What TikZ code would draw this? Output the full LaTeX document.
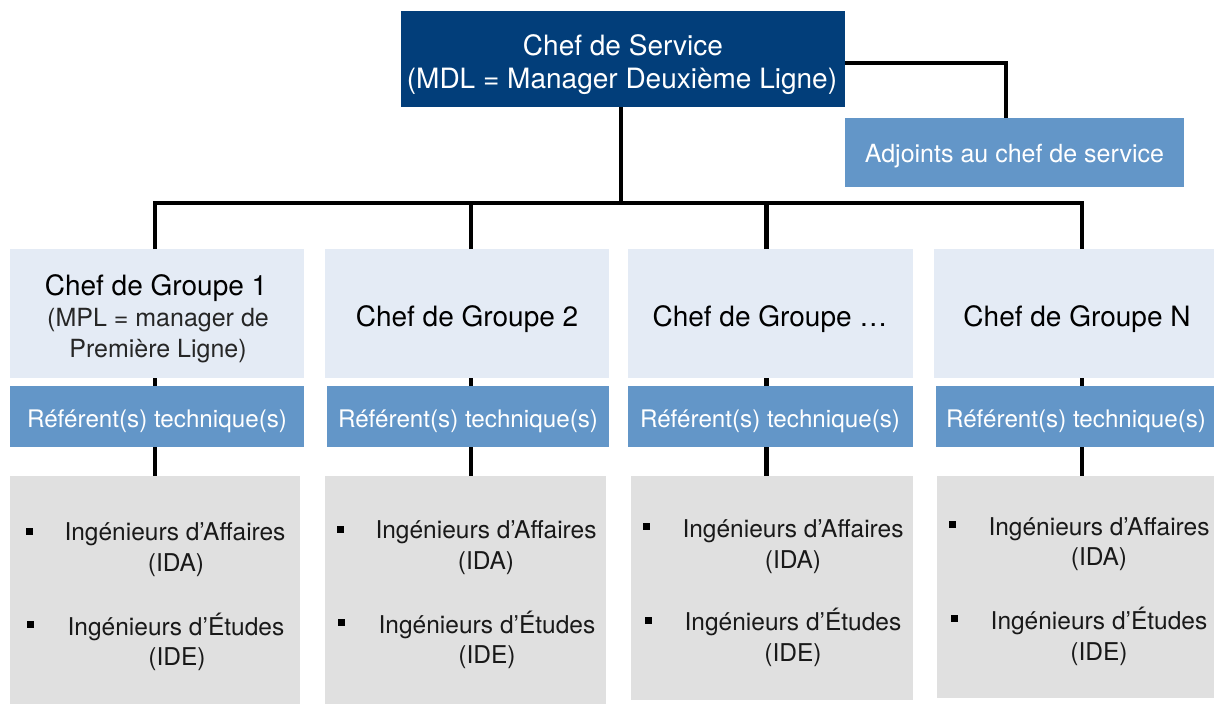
\documentclass[tikz,border=0pt]{standalone}
\usepackage{fontspec}
\setmainfont{TeX Gyre Heros}
\definecolor{navy}{RGB}{2,62,122}
\definecolor{midblue}{RGB}{99,150,200}
\definecolor{paleblue}{RGB}{228,235,245}
\definecolor{boxgray}{RGB}{224,224,224}
\begin{document}
\begin{tikzpicture}[x=1pt,y=-1pt,
  box/.style={anchor=north west, inner sep=0pt, outer sep=0pt, align=center},
  topbox/.style={box, fill=navy},
  refbox/.style={box, fill=midblue},
  grpbox/.style={box, fill=paleblue},
  graybox/.style={box, fill=boxgray},
  txt/.style={inner sep=0pt, anchor=center, text=black!90},
  wtxt/.style={inner sep=0pt, anchor=center, text=white},
  bigtxt/.style={txt, text=black, font=\fontsize{28}{32}\selectfont},
  reftxt/.style={wtxt, font=\fontsize{24.2}{28}\selectfont},
  smtxt/.style={txt, font=\fontsize{24.5}{30}\selectfont},
  sqbullet/.style={fill=black, inner sep=0pt, minimum size=7pt, anchor=center},
  conn/.style={line width=4.5pt, black}]
\useasboundingbox (0,0) rectangle (1214,704);

% top level
\node[topbox, minimum width=444pt, minimum height=96pt] (cs) at (401,11) {};
\node[wtxt, font=\fontsize{28}{32}\selectfont] (cs1) at (623,45) {Chef de Service};
\node[wtxt, font=\fontsize{28}{32}\selectfont] (cs2) at (622,81) {(MDL = Manager Deuxième Ligne)};

\node[refbox, minimum width=339pt, minimum height=69pt] (adj) at (845,118) {};
\node[wtxt, font=\fontsize{25}{28}\selectfont] (adjt) at (1014.5,156) {Adjoints au chef de service};

% group heads
\node[grpbox, minimum width=294pt, minimum height=129pt] (g1) at (10,249) {};
\node[bigtxt] (g1a) at (156,288) {Chef de Groupe 1};
\node[txt, text=black!85, font=\fontsize{25}{30}\selectfont] (g1b) at (158,320) {(MPL = manager de};
\node[txt, text=black!85, font=\fontsize{25}{30}\selectfont] (g1c) at (158,351) {Première Ligne)};
\node[grpbox, minimum width=284pt, minimum height=129pt] (g2) at (325,249) {};
\node[bigtxt] (g2t) at (467,319.5) {Chef de Groupe 2};
\node[grpbox, minimum width=285pt, minimum height=129pt] (g3) at (628,249) {};
\node[bigtxt] (g3t) at (770,319.5) {Chef de Groupe …};
\node[grpbox, minimum width=280pt, minimum height=129pt] (g4) at (934,249) {};
\node[bigtxt] (g4t) at (1077,319.5) {Chef de Groupe N};

% referents
\node[refbox, minimum width=294pt, minimum height=61pt] (r1) at (10,386) {};
\node[reftxt] (r1t) at (157,421) {Référent(s) technique(s)};
\node[refbox, minimum width=282pt, minimum height=61pt] (r2) at (327,386) {};
\node[reftxt] (r2t) at (468,421) {Référent(s) technique(s)};
\node[refbox, minimum width=285pt, minimum height=61pt] (r3) at (628,386) {};
\node[reftxt] (r3t) at (770,421) {Référent(s) technique(s)};
\node[refbox, minimum width=278pt, minimum height=61pt] (r4) at (936,386) {};
\node[reftxt] (r4t) at (1076,421) {Référent(s) technique(s)};

% gray boxes
\node[graybox, minimum width=290pt, minimum height=228pt] (b1) at (10,476) {};
\node[graybox, minimum width=281pt, minimum height=228pt] (b2) at (325,476) {};
\node[graybox, minimum width=282pt, minimum height=224pt] (b3) at (631,476) {};
\node[graybox, minimum width=277pt, minimum height=222pt] (b4) at (937,476) {};

% gray box contents
\node[sqbullet] (b1p1) at (29,531) {};
\node[smtxt] (b1a) at (175,534) {Ingénieurs d’Affaires};
\node[smtxt] (b1b) at (176,565) {(IDA)};
\node[sqbullet] (b1p2) at (30,624) {};
\node[smtxt] (b1c) at (176,627) {Ingénieurs d’Études};
\node[smtxt] (b1d) at (177,659) {(IDE)};

\node[sqbullet] (b2p1) at (340,529) {};
\node[smtxt] (b2a) at (486,532) {Ingénieurs d’Affaires};
\node[smtxt] (b2b) at (486,563) {(IDA)};
\node[sqbullet] (b2p2) at (341,622) {};
\node[smtxt] (b2c) at (487,625) {Ingénieurs d’Études};
\node[smtxt] (b2d) at (487,657) {(IDE)};

\node[sqbullet] (b3p1) at (646,526) {};
\node[smtxt] (b3a) at (793,531) {Ingénieurs d’Affaires};
\node[smtxt] (b3b) at (793,562) {(IDA)};
\node[sqbullet] (b3p2) at (648,620) {};
\node[smtxt] (b3c) at (793,622) {Ingénieurs d’Études};
\node[smtxt] (b3d) at (793,655) {(IDE)};

\node[sqbullet] (b4p1) at (952,524) {};
\node[smtxt] (b4a) at (1099,529) {Ingénieurs d’Affaires};
\node[smtxt] (b4b) at (1099,559) {(IDA)};
\node[sqbullet] (b4p2) at (954,618) {};
\node[smtxt] (b4c) at (1099,621) {Ingénieurs d’Études};
\node[smtxt] (b4d) at (1099,654) {(IDE)};

% connectors
\coordinate (busy) at (0,203);
\coordinate (sidey) at (0,63);
\draw[conn] ([xshift=-2pt]cs.south) -- ([xshift=-2pt]cs.south |- busy);
\draw[conn] ([xshift=-2pt]g1.north) |- ([xshift=8pt]g4.north |- busy) -- ([xshift=8pt]g4.north);
\draw[conn] ([xshift=4pt]g2.north) -- ([xshift=4pt]g2.north |- busy);
\draw[conn] ([xshift=-4pt]g3.north) -- ([xshift=-4pt]g3.north |- busy);
\draw[conn] (cs.east |- sidey) -| ([xshift=-8.5pt]adj.north);

\draw[conn] ([xshift=-2pt]g1.south) -- ([xshift=-2pt]g1.south |- r1.north);
\draw[conn] ([xshift=4pt]g2.south) -- ([xshift=4pt]g2.south |- r2.north);
\draw[conn] ([xshift=-4pt]g3.south) -- ([xshift=-4pt]g3.south |- r3.north);
\draw[conn] ([xshift=8pt]g4.south) -- ([xshift=8pt]g4.south |- r4.north);

\draw[conn] ([xshift=-2pt]r1.south) -- ([xshift=-2pt]r1.south |- b1.north);
\draw[conn] ([xshift=3pt]r2.south) -- ([xshift=3pt]r2.south |- b2.north);
\draw[conn] ([xshift=-4pt]r3.south) -- ([xshift=-4pt]r3.south |- b3.north);
\draw[conn] ([xshift=7pt]r4.south) -- ([xshift=7pt]r4.south |- b4.north);
\end{tikzpicture}
\end{document}
